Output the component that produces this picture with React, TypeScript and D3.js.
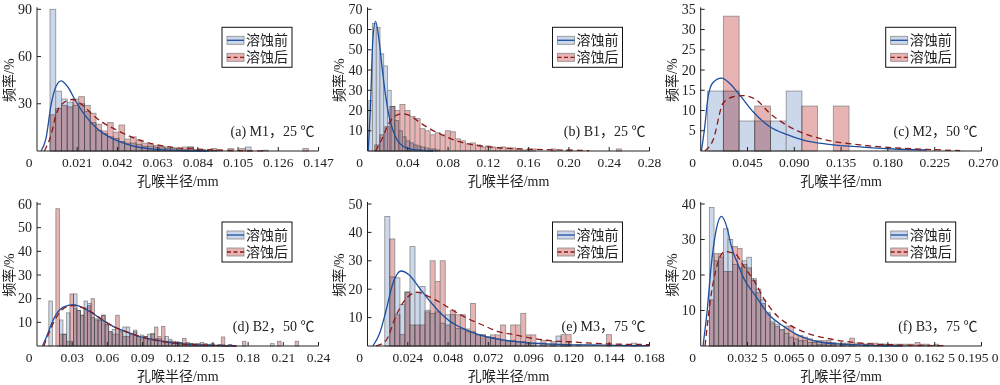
import * as d3 from 'd3';

// 孔喉半径分布直方图 (溶蚀前/溶蚀后) + 拟合曲线, six panels

const SERIES_NAMES = ['溶蚀前', '溶蚀后'];
const X_TITLE = '孔喉半径/mm';
const Y_TITLE = '频率/%';

// ---- (a) M1, 25 ℃
const captionA = '(a) M1，25 ℃';
const xTicksA = [0.021, 0.042, 0.063, 0.084, 0.105, 0.126, 0.147];
const xLabelsA = ['0.021', '0.042', '0.063', '0.084', '0.105', '0.126', '0.147'];
const yTicksA = [30, 60, 90];
const binsBeforeA = [0.0068, 0.003]; // [first edge, width]
const beforeA = [90, 38, 33, 31, 29, 30, 25, 18, 13, 11, 9, 8, 6, 5, 5, 4, 3, 3, 2.5, 2, 1.5, 2, 1, 1, 2.5, 0.5, 0.5, 0, 0.5, 0, 0, 0, 0, 0, 2.5];
const binsAfterA = [0.0068, 0.003];
const afterA = [23, 27, 29, 28, 33, 34.5, 29, 24, 17, 12.7, 18, 12, 16.5, 7.6, 9, 7, 5, 4, 3.5, 3, 2.5, 1.5, 1.5, 2.5, 2.5, 1, 1, 0.5, 1.5, 0.5, 0, 1.5, 0, 1.5, 0, 0, 0, 0.5, 0, 0, 0, 0, 0, 0, 1.5];
const fitBeforeA = [[0.0021, 0], [0.0047, 8], [0.0073, 29], [0.0099, 41], [0.0126, 44.6], [0.016, 40.8], [0.0204, 31.3], [0.0256, 21.8], [0.0309, 14.8], [0.0361, 10.1], [0.0431, 5.9], [0.0518, 2.7], [0.0623, 1], [0.075, 0.3], [0.09, 0]];
const fitAfterA = [[0.0038, 0], [0.0073, 10], [0.0099, 22.8], [0.0134, 30.2], [0.0187, 32.7], [0.0239, 29], [0.0291, 23], [0.0344, 18], [0.0413, 13.5], [0.0501, 8.5], [0.0605, 4.5], [0.0727, 2.1], [0.0867, 1], [0.1, 0.4], [0.12, 0]];

// ---- (b) B1, 25 ℃
const captionB = '(b) B1，25 ℃';
const xTicksB = [0.04, 0.08, 0.12, 0.16, 0.2, 0.24, 0.28];
const xLabelsB = ['0.04', '0.08', '0.12', '0.16', '0.20', '0.24', '0.28'];
const yTicksB = [10, 20, 30, 40, 50, 60, 70];
const binsBeforeB = [0.0013, 0.0037];
const beforeB = [25, 63, 61, 48, 42, 30, 22, 15, 10, 7, 5, 4, 3, 2.5, 2, 1.5, 1, 1, 0.5];
const binsAfterB = [0.0072, 0.005];
const afterB = [3, 8, 12, 22, 20, 23, 20, 17, 16, 11, 10, 8, 9, 8, 10, 9.5, 6, 5, 3.5, 4, 3, 2, 2.5, 2, 1.5, 2, 1.5, 1.5, 1, 0.5, 0.5, 1, 0, 0, 0, 1, 0, 0, 0.5, 0, 0, 0, 0, 0, 0, 0, 0, 0, 1];
const fitBeforeB = [[0.0007, 0], [0.003, 22.7], [0.0053, 55], [0.008, 64], [0.0113, 55.5], [0.0146, 40.7], [0.0179, 27.6], [0.0212, 17.7], [0.0246, 11.2], [0.0295, 5.4], [0.0362, 2.1], [0.0445, 0.8], [0.0578, 0.2], [0.065, 0]];
const fitAfterB = [[0.008, 0], [0.0146, 6.2], [0.0212, 13.6], [0.0279, 17.4], [0.0345, 18.4], [0.0412, 17.7], [0.0511, 14.4], [0.0611, 11.2], [0.0744, 7.9], [0.091, 4.6], [0.1109, 2.6], [0.13, 1.6], [0.16, 0.9], [0.2, 0.4], [0.22, 0.2]];

// ---- (c) M2, 50 ℃
const captionC = '(c) M2，50 ℃';
const xTicksC = [0.045, 0.09, 0.135, 0.18, 0.225, 0.27];
const xLabelsC = ['0.045', '0.090', '0.135', '0.180', '0.225', '0.270'];
const yTicksC = [5, 10, 15, 20, 25, 30, 35];
const binsBeforeC = [0.0067, 0.0151];
const beforeC = [14.8, 14.8, 7.4, 7.4, 7.4, 14.8];
const binsAfterC = [0.0067, 0.0151];
const afterC = [0, 33.3, 0, 11.1, 0, 0, 11.1, 0, 11.1];
const fitBeforeC = [[0.0007, 0], [0.0039, 6], [0.0071, 13.4], [0.012, 17], [0.0199, 18], [0.0279, 16.7], [0.0376, 13.8], [0.0504, 9.7], [0.0665, 6], [0.0825, 4.1], [0.0986, 2.7], [0.1211, 1.7], [0.1532, 1], [0.1853, 0.5], [0.2174, 0.25]];
const fitAfterC = [[0.0039, 0], [0.0119, 2.7], [0.0215, 11.8], [0.0312, 13.4], [0.0408, 13.7], [0.0536, 12.6], [0.0665, 9.3], [0.0825, 6.4], [0.0986, 4.4], [0.1211, 2.7], [0.1532, 1.5], [0.1853, 0.8], [0.2174, 0.4], [0.2495, 0.1]];

// ---- (d) B2, 50 ℃
const captionD = '(d) B2，50 ℃';
const xTicksD = [0.03, 0.06, 0.09, 0.12, 0.15, 0.18, 0.21, 0.24];
const xLabelsD = ['0.03', '0.06', '0.09', '0.12', '0.15', '0.18', '0.21', '0.24'];
const yTicksD = [10, 20, 30, 40, 50, 60];
const binsBeforeD = [0.0101, 0.003];
const beforeD = [19, 0, 0, 11, 5, 14, 2, 22, 15, 13, 19, 18, 12, 11.5, 11, 13, 9, 6, 7, 5, 6.7, 8, 8, 5, 6.7, 4, 4.6, 4, 5, 5.3, 3, 3, 2, 4, 2.8, 1.5, 1.8, 1.5, 1, 1.5, 1, 0.5, 1, 0.5, 0.5, 0.5, 1, 0, 0.5, 0.5, 0, 0.5, 0, 0, 0, 0, 0, 0, 0, 0, 0, 0, 0, 1];
const binsAfterD = [0.0101, 0.003];
const afterD = [0, 0, 58, 5, 5, 2, 22, 16, 15, 13, 16, 17, 20, 11, 11, 13, 9, 6, 5, 13, 6, 4, 4, 5, 6, 4, 3, 4, 3, 5, 8, 4, 8.3, 2, 2, 2, 1.5, 1.5, 3.2, 1, 1, 1, 0.5, 1.5, 1, 0.5, 0.5, 0, 0.5, 3.8, 0, 0.5, 0, 0, 0, 2, 0, 0, 0, 0, 0, 0, 0, 0, 0, 2, 0, 0, 0, 0, 2];
const fitBeforeD = [[0.0047, 0], [0.0081, 3.9], [0.0124, 9.4], [0.0166, 13.6], [0.0223, 16.4], [0.0308, 17.5], [0.0394, 16.1], [0.0479, 13.6], [0.0564, 10.8], [0.0649, 8.3], [0.0763, 6], [0.0905, 3.6], [0.1075, 1.9], [0.1246, 0.8], [0.1474, 0.3], [0.17, 0]];
const fitAfterD = [[0.0058, 0], [0.0124, 8], [0.0166, 12.2], [0.0223, 15.7], [0.0308, 17.1], [0.0394, 16.1], [0.0479, 13.9], [0.0564, 10.9], [0.0649, 8.3], [0.0763, 6], [0.0905, 3.6], [0.1075, 1.9], [0.1246, 0.8], [0.1474, 0.3], [0.17, 0]];

// ---- (e) M3, 75 ℃
const captionE = '(e) M3，75 ℃';
const xTicksE = [0.024, 0.048, 0.072, 0.096, 0.12, 0.144, 0.168];
const xLabelsE = ['0.024', '0.048', '0.072', '0.096', '0.120', '0.144', '0.168'];
const yTicksE = [10, 20, 30, 40, 50];
const binsBeforeE = [0.0103, 0.003];
const beforeE = [45.6, 24.3, 24, 14.6, 19, 35, 19, 21, 12.6, 11.4, 12, 8, 11, 11, 6.2, 6, 5, 5, 4, 3.9, 3.3, 3, 2.5, 2, 2, 2, 1.5, 1.5, 1, 1, 1, 1, 0.5, 0.5, 3.5, 0.5, 0.5, 0, 0.5, 0, 0, 0, 0, 0, 0, 0, 0, 0, 0, 1];
const binsAfterE = [0.0103, 0.003];
const afterE = [0, 37.7, 11, 4, 19, 7.4, 7.4, 7.4, 12, 30, 22.7, 30, 7.4, 12.6, 11, 11, 6, 15, 3.9, 3.9, 3, 3.9, 3.9, 7.4, 1.5, 7.4, 7.4, 11.5, 3.9, 3.9, 0, 2, 0, 1.5, 0, 4, 4, 0, 0, 0, 0, 0, 0, 0, 4];
const fitBeforeE = [[0.0032, 0], [0.0072, 4.4], [0.0111, 12.6], [0.0151, 22], [0.02, 26.4], [0.025, 24.9], [0.0309, 20.5], [0.0369, 16], [0.0428, 12], [0.0487, 8.9], [0.0567, 6.2], [0.0666, 3.9], [0.0784, 2.3], [0.0943, 1.2], [0.1141, 0.6], [0.14, 0.3], [0.168, 0.1]];
const fitAfterE = [[0.0052, 0], [0.0111, 2], [0.0171, 10.8], [0.023, 16.7], [0.0299, 18.9], [0.0369, 17.3], [0.0428, 15.5], [0.0507, 12.6], [0.0586, 10], [0.0685, 7.4], [0.0784, 5], [0.0883, 3.9], [0.0983, 2.7], [0.1101, 1.8], [0.12, 1.5], [0.14, 0.8], [0.168, 0.5]];

// ---- (f) B3, 75 ℃
const captionF = '(f) B3，75 ℃';
const xTicksF = [0.0325, 0.065, 0.0975, 0.13, 0.1625, 0.195];
const xLabelsF = ['0.032 5', '0.065 0', '0.097 5', '0.130 0', '0.162 5', '0.195 0'];
const yTicksF = [10, 20, 30, 40];
const binsBeforeF = [0.006, 0.00325];
const beforeF = [39, 24, 25, 33, 30, 23, 22, 24, 25, 19, 16, 13, 9.5, 7, 6, 4.7, 3.5, 2.5, 2, 1.5, 1.5, 1, 1, 0.5, 0.5, 1, 0.5, 0, 0.5, 0, 0.5, 0, 0, 0.5, 0, 0, 0, 0.5];
const binsAfterF = [0.006, 0.00325];
const afterF = [13, 26, 26, 21, 21, 28, 27.5, 23, 22, 18.5, 15, 12, 9, 6.5, 5.5, 4.5, 5.6, 5.6, 3.2, 3, 2.5, 2, 1.5, 1.5, 1.5, 1.6, 1, 0.8, 0.8, 0.8, 2.2, 0.8, 0.8, 0.5, 0.8, 0.8, 0.5, 0.5, 0.5, 0.5, 0.5, 0.5, 0.5, 0.5, 1, 0.5, 0.5, 0, 0.5];
const fitBeforeF = [[0.0016, 0], [0.0045, 10], [0.0074, 23], [0.0109, 33], [0.0144, 36.5], [0.0185, 33], [0.0213, 28], [0.0259, 23], [0.0306, 18.5], [0.0387, 13.8], [0.0469, 9], [0.0562, 5.9], [0.0678, 3], [0.0817, 1.2], [0.0979, 0.5], [0.12, 0.15], [0.14, 0]];
const fitAfterF = [[0.003, 0], [0.0074, 14.8], [0.0109, 22], [0.0167, 26.6], [0.0237, 26], [0.0306, 22], [0.0376, 18], [0.0445, 12.9], [0.0538, 8.2], [0.0631, 5.6], [0.0747, 3.5], [0.091, 1.9], [0.1142, 0.7], [0.1374, 0.3], [0.17, 0.1]];

const panels = [
  { caption: captionA, xTicks: xTicksA, xLabels: xLabelsA, yTicks: yTicksA, bins: [binsBeforeA, binsAfterA], hist: [beforeA, afterA], fits: [fitBeforeA, fitAfterA] },
  { caption: captionB, xTicks: xTicksB, xLabels: xLabelsB, yTicks: yTicksB, bins: [binsBeforeB, binsAfterB], hist: [beforeB, afterB], fits: [fitBeforeB, fitAfterB] },
  { caption: captionC, xTicks: xTicksC, xLabels: xLabelsC, yTicks: yTicksC, bins: [binsBeforeC, binsAfterC], hist: [beforeC, afterC], fits: [fitBeforeC, fitAfterC] },
  { caption: captionD, xTicks: xTicksD, xLabels: xLabelsD, yTicks: yTicksD, bins: [binsBeforeD, binsAfterD], hist: [beforeD, afterD], fits: [fitBeforeD, fitAfterD] },
  { caption: captionE, xTicks: xTicksE, xLabels: xLabelsE, yTicks: yTicksE, bins: [binsBeforeE, binsAfterE], hist: [beforeE, afterE], fits: [fitBeforeE, fitAfterE] },
  { caption: captionF, xTicks: xTicksF, xLabels: xLabelsF, yTicks: yTicksF, bins: [binsBeforeF, binsAfterF], hist: [beforeF, afterF], fits: [fitBeforeF, fitAfterF] },
];

// layout
const W = 1000;
const colLeft = [37, 367.5, 700.7];
const colRight = [318.5, 649.5, 981.5];
const rowTop = [9.3, 204];
const rowBottom = [151, 346];

const barFill = ['#cbd8ec', '#e8b3b3'];
const lineColor = ['#1d4f9e', '#8b1a1a'];
const serif = "'Liberation Serif', 'Noto Sans CJK SC', serif";
const cjk = "'Liberation Serif', 'Noto Sans CJK SC', sans-serif";
const tickFont = 13.5;

function Panel({ p, i }) {
  const col = i % 3;
  const row = Math.floor(i / 3);
  const left = colLeft[col];
  const right = colRight[col];
  const top = rowTop[row];
  const bottom = rowBottom[row];
  const xMax = p.xTicks[p.xTicks.length - 1];
  const yMax = p.yTicks[p.yTicks.length - 1];
  const x = d3.scaleLinear().domain([0, xMax]).range([left, right]);
  const y = d3.scaleLinear().domain([0, yMax]).range([bottom, top]);
  const line = d3.line<number[]>().x(d => x(d[0])).y(d => y(d[1])).curve(d3.curveMonotoneX);
  const lx = left + 185;
  const ly = top + 18;

  return (
    <g>
      {p.hist.map((vals, s) => (
        <g key={s} style={s === 1 ? { mixBlendMode: 'multiply' } : undefined}>
          {vals.map((v, k) => {
            if (!v) return null;
            const x0 = p.bins[s][0] + k * p.bins[s][1];
            return (
              <rect key={k} x={x(x0)} y={y(v)} width={x(x0 + p.bins[s][1]) - x(x0)} height={y(0) - y(v)}
                fill={barFill[s]} stroke="#8a8a8a" strokeWidth={0.8} />
            );
          })}
        </g>
      ))}
      <path d={line(p.fits[0]) || ''} fill="none" stroke={lineColor[0]} strokeWidth={1.3} />
      <path d={line(p.fits[1]) || ''} fill="none" stroke={lineColor[1]} strokeWidth={1.3} strokeDasharray="6,4" />

      {/* axes */}
      <line x1={left} x2={left} y1={bottom} y2={top - 2} stroke="#222" strokeWidth={1} />
      <line x1={left} x2={right} y1={bottom} y2={bottom} stroke="#222" strokeWidth={1} />
      {p.yTicks.map(t => (
        <g key={t}>
          <line x1={left} x2={left + 4} y1={y(t)} y2={y(t)} stroke="#222" />
          <text x={left - 5} y={y(t)} textAnchor="end" dominantBaseline="central" fontFamily={serif} fontSize={14} fill="#222">{t}</text>
        </g>
      ))}
      {p.xTicks.map((t, k) => {
        const label = p.xLabels[k];
        const half = label.length * tickFont * 0.29;
        const overflow = x(t) + half > W - 1;
        return (
          <g key={t}>
            <line x1={x(t)} x2={x(t)} y1={bottom} y2={bottom - 4} stroke="#222" />
            <text x={overflow ? W - 1.5 : x(t)} y={bottom + 16} textAnchor={overflow ? 'end' : 'middle'}
              fontFamily={serif} fontSize={tickFont} fill="#222">{label}</text>
          </g>
        );
      })}
      <text x={left - 8} y={bottom + 16} textAnchor="middle" fontFamily={serif} fontSize={tickFont} fill="#222">0</text>
      <text x={(left + right) / 2} y={bottom + 35} textAnchor="middle" fontFamily={cjk} fontSize={14} fill="#222">{X_TITLE}</text>
      <text transform={`translate(${left - 28},${(top + bottom) / 2}) rotate(-90)`} textAnchor="middle" dominantBaseline="central"
        fontFamily={cjk} fontSize={14} fill="#222">{Y_TITLE}</text>
      <text x={right - 4} y={bottom - 15} textAnchor="end" fontFamily={serif} fontSize={14} fill="#222">{p.caption}</text>

      {/* legend */}
      <rect x={lx} y={ly} width={70} height={40} fill="#fff" stroke="#111" strokeWidth={1} />
      {SERIES_NAMES.map((name, s) => {
        const cy = ly + 13 + s * 17;
        return (
          <g key={name}>
            <rect x={lx + 5} y={cy - 4} width={17} height={8} fill={barFill[s]} stroke="#8a8a8a" strokeWidth={0.8} />
            <line x1={lx + 5} x2={lx + 22} y1={cy} y2={cy} stroke={lineColor[s]} strokeWidth={1.3} strokeDasharray={s === 1 ? '4,2.5' : undefined} />
            <text x={lx + 24} y={cy} dominantBaseline="central" fontFamily={cjk} fontSize={14} fill="#222">{name}</text>
          </g>
        );
      })}
    </g>
  );
}

export default function App() {
  return (
    <svg width={1000} height={385} style={{ position: 'absolute', left: 0, top: 0, background: '#fff' }}>
      {panels.map((p, i) => <Panel key={i} p={p} i={i} />)}
    </svg>
  );
}
